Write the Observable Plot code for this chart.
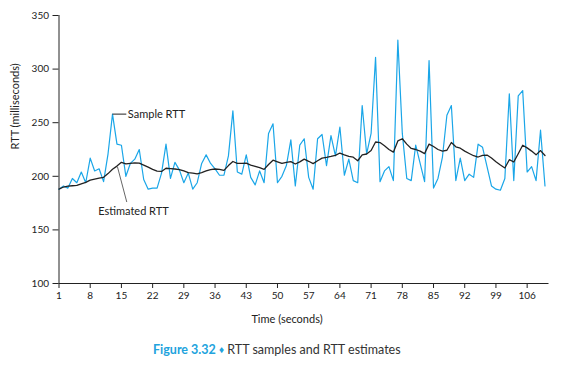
<!DOCTYPE html>
<html><head><meta charset="utf-8">
<script src="https://cdn.jsdelivr.net/npm/d3@7"></script>
<script src="https://cdn.jsdelivr.net/npm/@observablehq/plot@0.6"></script>
<style>
body{margin:0;background:#fff;font-family:Lato,"Open Sans",sans-serif;}
#wrap{position:relative;width:582px;height:367px;overflow:hidden;}
#caption{position:absolute;left:153px;top:342px;font-size:12.5px;color:#333;white-space:nowrap;}
#caption b{color:#22a3dd;}
#caption .dm{color:#22a3dd;font-size:10px;position:relative;top:-1px;}
</style></head><body>
<div id="wrap">
<div id="chart"></div>
<div id="caption"><b>Figure 3.32</b> <span class="dm">♦</span> RTT samples and RTT estimates</div>
</div>
<script>
const sampleRTT = [188,191,189,198,194,204,194,217,205,207,195,221,258,230,229,200,212,216,225,197,
  188,189,189,203,230,198,213,206,194,203,188,194,212,220,212,207,201,201,219,261,
  204,202,220,199,192,205,194,240,249,194,200,210,234,191,229,235,199,188,235,239,
  210,238,219,246,201,216,196,194,266,221,240,311,195,205,209,196,327,240,198,196,
  229,212,195,308,189,198,218,257,266,196,217,196,202,199,230,227,209,191,188,187,
  198,277,196,275,280,204,209,196,243,191];
const estimatedRTT = [188,190,190.8,191.2,191.6,193,194.4,196.4,197.4,198.2,199,202.5,206.5,209.5,213,211.5,212,212.5,212.3,210.5,
  208.5,206.5,204.8,204.5,207.5,207.2,206.8,206.3,205,203.5,203,202.3,203.5,205,206.3,206.8,206.5,205.5,210,213.8,
  212,212,212.2,210.5,209.3,208,206.5,211,215,213.5,212,213,213.7,211.5,213.5,216,214,211.8,214.5,217,
  217.7,218.5,219.5,221.7,220,218.5,217.8,214.5,220,220.8,224,232,231.5,228.5,225,222.5,233,235,230,226,
  225,223.5,221.2,230,227.8,225,223.5,224.3,231.5,227.5,226.2,223.5,221.3,219.2,218,219.5,219.8,217,213.5,210.5,
  207.8,215.5,213.3,221,229,226.5,223.5,220,224,219.4];
const xTicks = [1,8,15,22,29,36,43,50,57,64,71,78,85,92,99,106];
const yTicks = [100,150,200,250,300,350];
const xLabel = "Time (seconds)";
const yLabel = "RTT (milliseconds)";
const sampleNote = [{x1: 13, x2: 16.1, y: 258, label: "Sample RTT"}];
const estNote = [{x1: 14.1, y1: 209, x2: 16.2, y2: 176, tx: 17.7, ty: 167, label: "Estimated RTT"}];

const rows = sampleRTT.map((s, i) => ({t: i + 1, sample: s, est: estimatedRTT[i]}));

const plot = Plot.plot({
  width: 582, height: 335,
  marginLeft: 58.5, marginRight: 33.5, marginTop: 15, marginBottom: 52,
  style: {fontFamily: "Lato, 'Open Sans', sans-serif", fontSize: "10px", color: "#222", background: "#fff", overflow: "visible"},
  x: {domain: [1, 110.9], label: null},
  y: {domain: [100, 350], label: null},
  marks: [
    Plot.axisX(xTicks, {tickSize: 5, tickPadding: 3, label: null, stroke: "#222", fill: "#222"}),
    Plot.axisY(yTicks, {tickSize: 6, tickPadding: 4, label: null, stroke: "#222", fill: "#222"}),
    Plot.ruleY([100], {stroke: "#222", strokeWidth: 1}),
    Plot.ruleX([1], {stroke: "#222", strokeWidth: 1}),
    Plot.line(rows, {x: "t", y: "sample", stroke: "#1aa6e8", strokeWidth: 1.2}),
    Plot.line(rows, {x: "t", y: "est", stroke: "#222", strokeWidth: 1.3}),
    Plot.link(sampleNote, {x1: "x1", x2: "x2", y1: "y", y2: "y", stroke: "#222", strokeWidth: 1}),
    Plot.text(sampleNote, {x: "x2", y: "y", text: "label", textAnchor: "start", dx: 1.5, fontSize: 11, fill: "#222"}),
    Plot.link(estNote, {x1: "x1", y1: "y1", x2: "x2", y2: "y2", stroke: "#555", strokeWidth: 0.9}),
    Plot.text(estNote, {x: "tx", y: "ty", text: "label", fontSize: 11, fill: "#222"}),
    Plot.text([xLabel], {frameAnchor: "bottom", dy: 39, dx: -17, fontSize: 11, fill: "#222"}),
    Plot.text([yLabel], {frameAnchor: "left", rotate: -90, dx: -44, fontSize: 11, fill: "#222"})
  ]
});
document.getElementById("chart").appendChild(plot);
</script>
</body></html>
